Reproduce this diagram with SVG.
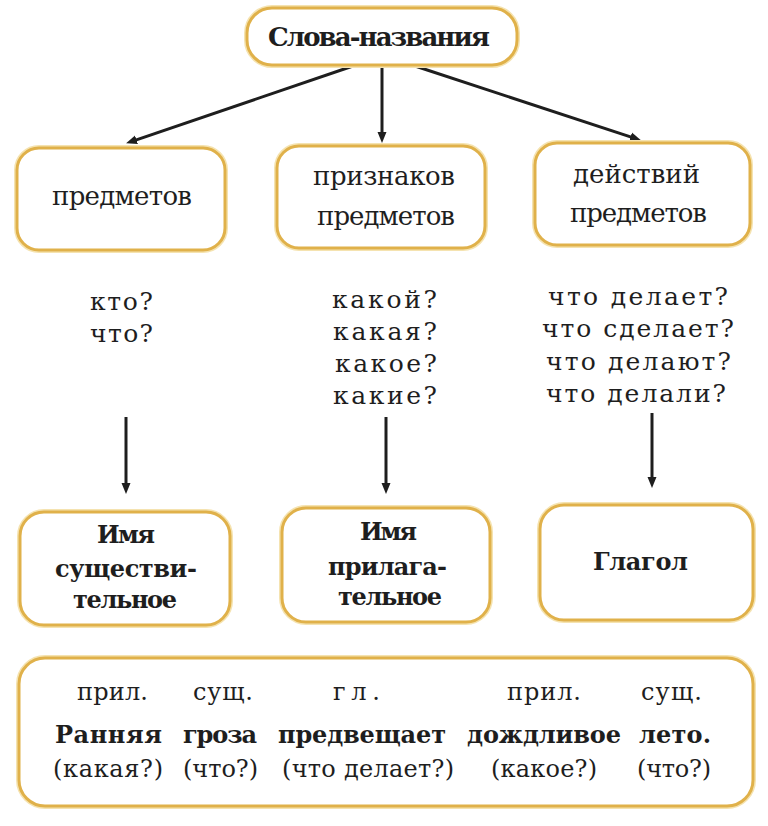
<svg xmlns="http://www.w3.org/2000/svg" width="768" height="826" viewBox="0 0 768 826">
<style>
  .box { fill: #ffffff; stroke: #E0B14A; stroke-width: 3; }
  .halo { fill: none; stroke: #F5E3B0; stroke-width: 6; }
  text { font-family: 'DejaVu Serif', serif; fill: #1e1e1e; }
  .reg { font-size: 26px; }
  .q { font-size: 25px; }
  .b { font-weight: bold; font-size: 24px; }
  .top { font-weight: bold; font-size: 26px; }
  .s { font-size: 24px; }
  .conn { stroke: #1e1e1e; stroke-width: 3; fill: none; }
</style>
<defs>
  <marker id="ah" markerUnits="userSpaceOnUse" markerWidth="12" markerHeight="10" refX="4" refY="5" orient="auto">
    <path d="M0,0.5 L11,5 L0,9.5 z" fill="#1e1e1e"/>
  </marker>
</defs>
<rect width="768" height="826" fill="#ffffff"/>

<g id="connectors">
  <line class="conn" x1="353" y1="66" x2="132.7" y2="141.1" marker-end="url(#ah)"/>
  <line class="conn" x1="382" y1="66" x2="382" y2="136" marker-end="url(#ah)"/>
  <line class="conn" x1="415" y1="66" x2="634.3" y2="138.1" marker-end="url(#ah)"/>
  <line class="conn" x1="126" y1="417" x2="126" y2="487" marker-end="url(#ah)"/>
  <line class="conn" x1="386" y1="417" x2="386" y2="487" marker-end="url(#ah)"/>
  <line class="conn" x1="652" y1="413" x2="652" y2="481" marker-end="url(#ah)"/>
</g>

<g id="node-root">
  <rect class="halo" x="247" y="8" width="270" height="57" rx="25"/>
  <rect class="box" x="247" y="8" width="270" height="57" rx="25"/>
  <text class="top" x="268" y="46" textLength="222">Слова-названия</text>
</g>

<g id="node-predmetov">
  <rect class="halo" x="17" y="148" width="208" height="102" rx="22"/>
  <rect class="box" x="17" y="148" width="208" height="102" rx="22"/>
  <text class="reg" x="52" y="205" textLength="140">предметов</text>
</g>

<g id="node-priznakov">
  <rect class="halo" x="277" y="146" width="208" height="102" rx="22"/>
  <rect class="box" x="277" y="146" width="208" height="102" rx="22"/>
  <text class="reg" x="313" y="185" textLength="142">признаков</text>
  <text class="reg" x="317" y="225" textLength="138">предметов</text>
</g>

<g id="node-deystviy">
  <rect class="halo" x="535" y="143" width="215" height="102" rx="22"/>
  <rect class="box" x="535" y="143" width="215" height="102" rx="22"/>
  <text class="reg" x="573" y="183" textLength="127">действий</text>
  <text class="reg" x="570" y="222" textLength="137">предметов</text>
</g>

<g id="questions-noun">
  <text class="q" x="90" y="310" textLength="63">кто?</text>
  <text class="q" x="90" y="342" textLength="63">что?</text>
</g>

<g id="questions-adj">
  <text class="q" x="332" y="308" textLength="105">какой?</text>
  <text class="q" x="333" y="340" textLength="104">какая?</text>
  <text class="q" x="335" y="372" textLength="102">какое?</text>
  <text class="q" x="333" y="404" textLength="104">какие?</text>
</g>

<g id="questions-verb">
  <text class="q" x="548" y="305" textLength="180">что делает?</text>
  <text class="q" x="542" y="337" textLength="192">что сделает?</text>
  <text class="q" x="546" y="370" textLength="185">что делают?</text>
  <text class="q" x="546" y="402" textLength="180">что делали?</text>
</g>

<g id="node-noun">
  <rect class="halo" x="20" y="512" width="210" height="113" rx="24"/>
  <rect class="box" x="20" y="512" width="210" height="113" rx="24"/>
  <text class="b" x="97" y="543" textLength="58">Имя</text>
  <text class="b" x="55" y="577" textLength="142">существи-</text>
  <text class="b" x="73" y="608" textLength="104">тельное</text>
</g>

<g id="node-adj">
  <rect class="halo" x="282" y="508" width="208" height="114" rx="24"/>
  <rect class="box" x="282" y="508" width="208" height="114" rx="24"/>
  <text class="b" x="360" y="540" textLength="57">Имя</text>
  <text class="b" x="328" y="575" textLength="119">прилага-</text>
  <text class="b" x="338" y="605" textLength="104">тельное</text>
</g>

<g id="node-verb">
  <rect class="halo" x="540" y="505" width="213" height="115" rx="24"/>
  <rect class="box" x="540" y="505" width="213" height="115" rx="24"/>
  <text class="b" x="593" y="570" textLength="95">Глагол</text>
</g>

<g id="node-sentence">
  <rect class="halo" x="19" y="658" width="734" height="148" rx="26"/>
  <rect class="box" x="19" y="658" width="734" height="148" rx="26"/>
  <text class="s" x="77" y="700" textLength="71">прил.</text>
  <text class="s" x="193" y="700" textLength="60">сущ.</text>
  <text class="s" x="333" y="700" textLength="47">гл.</text>
  <text class="s" x="507" y="700" textLength="74">прил.</text>
  <text class="s" x="641" y="700" textLength="61">сущ.</text>

  <text class="b" x="55" y="743" textLength="107">Ранняя</text>
  <text class="b" x="183" y="743" textLength="74">гроза</text>
  <text class="b" x="278" y="743" textLength="168">предвещает</text>
  <text class="b" x="467" y="743" textLength="154">дождливое</text>
  <text class="b" x="639" y="743" textLength="72">лето.</text>

  <text class="s" x="53" y="777" textLength="110">(какая?)</text>
  <text class="s" x="183" y="777" textLength="75">(что?)</text>
  <text class="s" x="282" y="777" textLength="172">(что делает?)</text>
  <text class="s" x="491" y="777" textLength="106">(какое?)</text>
  <text class="s" x="637" y="777" textLength="74">(что?)</text>
</g>
</svg>
